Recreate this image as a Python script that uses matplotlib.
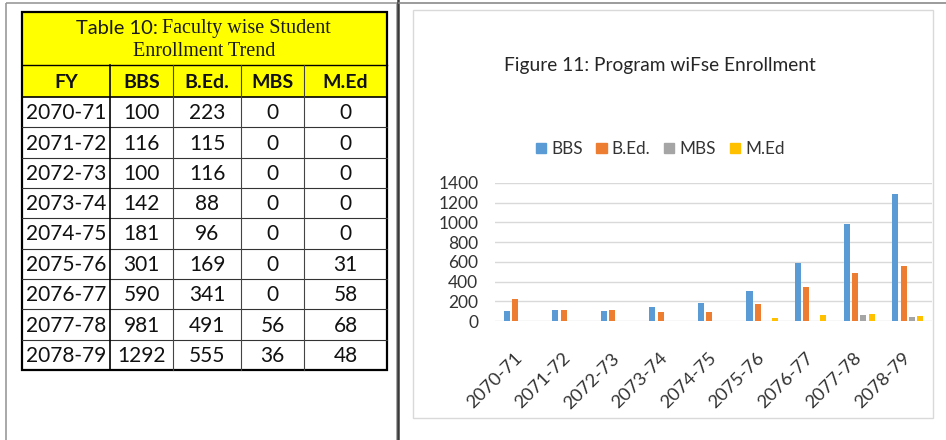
import numpy as np
import matplotlib.pyplot as plt
from matplotlib.patches import Rectangle, Patch

plt.rcParams['font.family'] = ['Lato', 'DejaVu Sans']

# Enrollment by fiscal year and program
years = ['2070-71', '2071-72', '2072-73', '2073-74', '2074-75',
         '2075-76', '2076-77', '2077-78', '2078-79']
programs = ['BBS', 'B.Ed.', 'MBS', 'M.Ed']
bbs = [100, 116, 100, 142, 181, 301, 590, 981, 1292]
bed = [223, 115, 116, 88, 96, 169, 341, 491, 555]
mbs = [0, 0, 0, 0, 0, 0, 0, 56, 36]
med = [0, 0, 0, 0, 0, 31, 58, 68, 48]
series = [bbs, bed, mbs, med]
colors = ['#5B9BD5', '#ED7D31', '#A5A5A5', '#FFC000']

W, H, dpi = 946, 440, 100
fig = plt.figure(figsize=(W / dpi, H / dpi), dpi=dpi)

# full-figure layer in pixel units for the table and panel frames
bg = fig.add_axes([0, 0, 1, 1])
bg.set_xlim(0, W)
bg.set_ylim(H, 0)
bg.axis('off')

# panel frames
bg.add_patch(Rectangle((5.5, 3.5), 391, 440, fill=False, ec='#9a9a9a', lw=1.2))
bg.plot([397.5, 397.5], [0, H], color='#3a3a3a', lw=1.8)
bg.plot([399, W], [3.5, 3.5], color='#8a8a8a', lw=1.2)
bg.add_patch(Rectangle((413, 10), 520, 408, fill=False, ec='#d9d9d9', lw=1))

# ---- table ----
col_x = [22, 110, 173, 241, 304, 387]
top, title_bot, head_bot, bottom = 12, 65, 97, 370
row_h = (bottom - head_bot) / len(years)

bg.add_patch(Rectangle((col_x[0], top), col_x[-1] - col_x[0], head_bot - top,
                       fc='#FFFF00', ec='none'))

# grid lines
bg.plot([col_x[0], col_x[-1]], [title_bot, title_bot], color='k', lw=1)
bg.plot([col_x[0], col_x[-1]], [head_bot, head_bot], color='k', lw=1.2)
for i in range(1, len(years)):
    y = head_bot + i * row_h
    bg.plot([col_x[0], col_x[-1]], [y, y], color='#333333', lw=0.8)
for k, x in enumerate(col_x[1:-1]):
    bg.plot([x, x], [title_bot, bottom], color='k' if k == 0 else '#444444',
            lw=1.2 if k == 0 else 0.8)
bg.add_patch(Rectangle((col_x[0], top), col_x[-1] - col_x[0], bottom - top,
                       fill=False, ec='k', lw=1.6))

# table title: sans label followed by serif caption
bg.text(158, 28, 'Table 10:', ha='right', va='center', fontsize=14.5,
        color='#1a1a1a')
bg.text(162, 29, 'Faculty wise Student', ha='left', va='center', fontsize=14.5,
        family='Liberation Serif', color='#1a1a1a')
bg.text((col_x[0] + col_x[-1]) / 2, 52, 'Enrollment Trend', ha='center',
        va='center', fontsize=14.5, family='Liberation Serif', color='#1a1a1a')

centers = [(a + b) / 2 for a, b in zip(col_x[:-1], col_x[1:])]
for c, lab in zip(centers, ['FY'] + programs):
    bg.text(c, (title_bot + head_bot) / 2 + 1, lab, ha='center', va='center',
            fontsize=14, fontweight='bold', color='#111111')

for i, yr in enumerate(years):
    yc = head_bot + (i + 0.5) * row_h + 1
    cells = [yr] + [str(s[i]) for s in series]
    for c, txt in zip(centers, cells):
        bg.text(c, yc, txt, ha='center', va='center', fontsize=15,
                color='#111111')

# ---- bar chart ----
ax = fig.add_axes([495 / W, 1 - 321 / H, 437 / W, 138 / H])
x = np.arange(len(years))
slot, bw = 0.172, 0.125
for j, (vals, col, name) in enumerate(zip(series, colors, programs)):
    ax.bar(x + (j - 1.5) * slot, vals, width=bw, color=col, label=name)

ax.set_xlim(-0.5, len(years) - 0.5)
ax.set_ylim(0, 1400)
ax.set_yticks(np.arange(0, 1401, 200))
ax.yaxis.grid(True, color='#d9d9d9', lw=1)
ax.set_axisbelow(True)
for s in ax.spines.values():
    s.set_visible(False)
ax.tick_params(axis='both', length=0, labelsize=12.5, labelcolor='#333333')
ax.tick_params(axis='y', pad=12)
ax.tick_params(axis='x', labelsize=13.2, pad=25)
ax.set_xticks(x)
ax.set_xticklabels(years, rotation=45, ha='right', va='center',
                   rotation_mode='anchor')

fig.text(660 / W, 1 - 66 / H, 'Figure 11: Program wiFse Enrollment',
         ha='center', va='center', fontsize=13.8, color='#262626')

handles = [Patch(color=c, label=n) for c, n in zip(colors, programs)]
fig.legend(handles=handles, loc='center', bbox_to_anchor=(660 / W, 1 - 149 / H),
           ncol=4, frameon=False, fontsize=12.3, handlelength=0.6,
           handleheight=0.6, handletextpad=0.3, columnspacing=0.8,
           labelcolor='#333333')

plt.savefig('out.png', dpi=dpi)
